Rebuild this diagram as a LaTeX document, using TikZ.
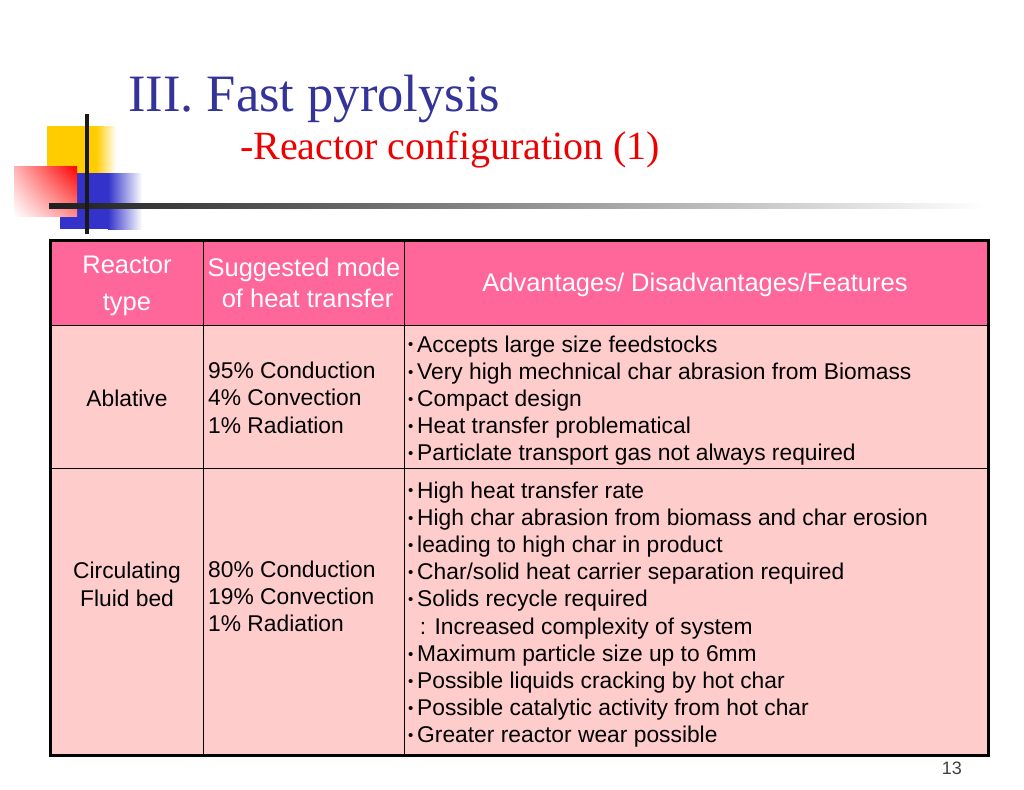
\documentclass[tikz,border=0pt]{standalone}
\usepackage{fontspec}
\setmainfont{Liberation Serif}
\setsansfont{Liberation Sans}
\usetikzlibrary{shadings}
\definecolor{titleblue}{HTML}{333399}
\definecolor{subred}{HTML}{EE0000}
\definecolor{headpink}{HTML}{FF6699}
\definecolor{cellpink}{HTML}{FFCCCC}
\definecolor{barblue}{HTML}{3333CC}
\definecolor{baryellow}{HTML}{FFCC00}
\newcommand{\featdot}{\makebox[10pt][l]{\hspace{1pt}\fontsize{15}{15}\selectfont\raisebox{2.2pt}{•}}}
\tikzstyle{head} = [draw=black,line width=1.2pt,fill=headpink,inner sep=0pt,anchor=north west]
\tikzstyle{cell} = [draw=black,line width=1.2pt,fill=cellpink,inner sep=0pt,anchor=north west]
\tikzstyle{headtext} = [text=white,inner sep=0pt,align=center,anchor=base]
\tikzstyle{bodytext} = [font=\sffamily\fontsize{22.8}{27.2}\selectfont,inner sep=0pt,align=left,anchor=base west]
\tikzstyle{celltext} = [font=\sffamily\fontsize{22.8}{27.2}\selectfont,inner sep=0pt,align=center,anchor=base]

\begin{document}
\begin{tikzpicture}[x=1pt,y=-1pt]
				\useasboundingbox[fill=white] (0,0) rectangle (1024,789);
				
				% corner squares
				\fill[baryellow] (47,126) rectangle (96,173);
				\shade[left color=baryellow,right color=white] (96,126) rectangle (116,173);
				\fill[barblue] (60,173) rectangle (108,229);
				\shade[left color=barblue,right color=white] (108,173) rectangle (142,229);
				\shade[upper right=red,upper left=red!30,lower right=red!45,lower left=white] (14,166) rectangle (77,216);
				\shade[left color=black!88,right color=white] (49,203.5) rectangle (985,208.5);
				\draw[line width=4pt,black!90] (87,114) -- (87,234);
				
				\node[text=titleblue,font=\fontsize{52.5}{60}\selectfont,anchor=base west,inner sep=0pt] (title) at (128,111) {III. Fast pyrolysis};
				\node[text=subred,font=\fontsize{40}{45}\selectfont,anchor=base west,inner sep=0pt] (subtitle) at (240,159) {-Reactor configuration (1)};
				
				% table cells
				\foreach \col/\x/\w in {1/50/153, 2/203/201, 3/404/583}
				{
				\node[head,minimum width=\w pt,minimum height=85pt] (h\col) at (\x,240) {};
				\node[cell,minimum width=\w pt,minimum height=143pt] (a\col) at (\x,325) {};
				\node[cell,minimum width=\w pt,minimum height=286pt] (c\col) at (\x,468) {};
				}
				\draw[line width=3pt] (h1.north west) rectangle (c3.south east);
				
				% header (base = last line)
				\node[headtext,font=\sffamily\fontsize{25.5}{37}\selectfont] (htype) at (127,310) {Reactor\\type};
				\node[headtext,font=\sffamily\fontsize{25.5}{31}\selectfont] (hmode) at (304,307) {Suggested mode\\\ of heat transfer};
				\node[headtext,font=\sffamily\fontsize{25.5}{31}\selectfont] (hfeat) at (695,291) {Advantages/ Disadvantages/Features};
				
				% ablative
				\node[celltext] (atype) at (127,406) {Ablative};
				\node[bodytext] (amode) at (208,433) {95\% Conduction\\4\% Convection\\1\% Radiation};
				\node[bodytext] (afeat) at (407,460.8) {\featdot Accepts large size feedstocks\\\featdot Very high mechnical char abrasion from Biomass\\\featdot Compact design\\\featdot Heat transfer problematical\\\featdot Particlate transport gas not always required};
				
				% circulating fluid bed
				\node[celltext] (ctype) at (127,606) {Circulating\\Fluid bed};
				\node[bodytext] (cmode) at (208,631.4) {80\% Conduction\\19\% Convection\\1\% Radiation};
				\node[bodytext] (cfeat) at (407,742.8) {\featdot High heat transfer rate\\\featdot High char abrasion from biomass and char erosion\\\featdot leading to high char in product\\\featdot Char/solid heat carrier separation required\\\featdot Solids recycle required\\\ \ : Increased complexity of system\\\featdot Maximum particle size up to 6mm\\\featdot Possible liquids cracking by hot char\\\featdot Possible catalytic activity from hot char\\\featdot Greater reactor wear possible};
				
				\node[text=black!75,font=\sffamily\fontsize{18}{20}\selectfont,anchor=base east,inner sep=0pt] (page) at (962,774) {13};
			\end{tikzpicture}
\end{document}
